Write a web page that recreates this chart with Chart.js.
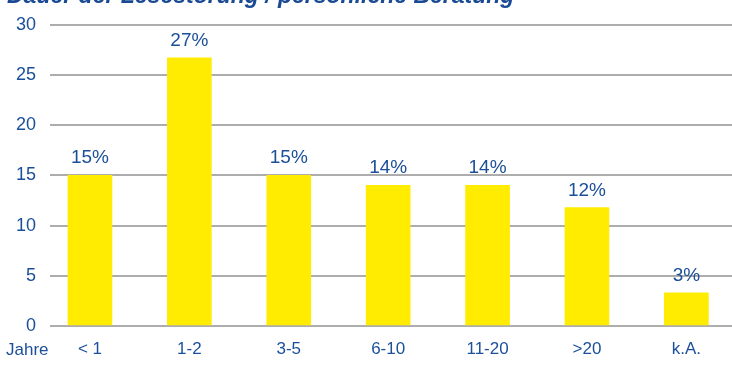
<!DOCTYPE html>
<html><head><meta charset="utf-8">
<script src="https://cdn.jsdelivr.net/npm/chart.js@4"></script>
<style>html,body{margin:0;padding:0;background:#fff}#wrap{width:732px;height:365px;position:relative}</style>
</head><body>
<div id="wrap"><canvas id="c"></canvas></div>
<script>
const titleText = 'Dauer der Lesestörung / persönliche Beratung';
const axisUnit = 'Jahre';
const categories = ['< 1', '1-2', '3-5', '6-10', '11-20', '>20', 'k.A.'];
const values = [15, 26.7, 15, 14, 14, 11.8, 3.3];
const valueLabels = ['15%', '27%', '15%', '14%', '14%', '12%', '3%'];
const yTicks = [0, 5, 10, 15, 20, 25, 30];

const BLUE = '#1b4f99';
const GRID = '#adadad';

const extras = {
  id: 'extras',
  afterDatasetsDraw(chart) {
    const ctx = chart.ctx;
    const meta = chart.getDatasetMeta(0);
    ctx.save();
    ctx.fillStyle = BLUE;
    ctx.font = '19px "Liberation Sans", Arial, sans-serif';
    ctx.textAlign = 'center';
    ctx.textBaseline = 'alphabetic';
    meta.data.forEach((bar, i) => {
      ctx.fillText(valueLabels[i], bar.x, bar.y - 12);
    });
    // title (partly cut off at the top)
    ctx.font = 'italic bold 23px "Liberation Sans", Arial, sans-serif';
    ctx.textAlign = 'left';
    ctx.fillStyle = '#1a4a94';
    ctx.fillText(titleText, 7, 3);
    // unit label left of the category labels
    ctx.font = '17px "Liberation Sans Narrow", "Liberation Sans", Arial, sans-serif';
    ctx.fillStyle = BLUE;
    ctx.textBaseline = 'top';
    ctx.fillText(axisUnit, 6, chart.chartArea.bottom + 16);
    ctx.restore();
  }
};

new Chart(document.getElementById('c'), {
  type: 'bar',
  data: {
    datasets: [{
      data: values.map((v, i) => ({x: i, y: v})),
      backgroundColor: '#ffec00',
      borderWidth: 0,
      barThickness: 44
    }]
  },
  options: {
    responsive: true,
    maintainAspectRatio: false,
    animation: false,
    events: [],
    layout: {padding: {top: 22, left: 0, right: 0, bottom: 0}},
    plugins: {legend: {display: false}, tooltip: {enabled: false}, title: {display: false}},
    scales: {
      x: {
        type: 'linear',
        offset: false,
        min: -0.402,
        max: 6.459,
        grid: {display: false, drawTicks: false, offset: false},
        border: {display: false},
        afterBuildTicks(scale) { scale.ticks = categories.map((_, i) => ({value: i})); },
        afterFit(scale) { scale.height = 39; },
        ticks: {
          padding: 13,
          color: BLUE,
          font: {family: '"Liberation Sans Narrow", "Liberation Sans", Arial, sans-serif', size: 17},
          maxRotation: 0,
          autoSkip: false,
          callback: (v) => categories[v] !== undefined ? categories[v] : ''
        }
      },
      y: {
        min: 0,
        max: 30,
        grid: {color: GRID, lineWidth: 2, drawTicks: false},
        border: {display: false},
        afterBuildTicks(scale) { scale.ticks = yTicks.map(v => ({value: v})); },
        afterFit(scale) { scale.width = 50; },
        ticks: {
          padding: 14,
          color: BLUE,
          font: {family: '"Liberation Sans", Arial, sans-serif', size: 18}
        }
      }
    }
  },
  plugins: [extras]
});
</script>
</body></html>
